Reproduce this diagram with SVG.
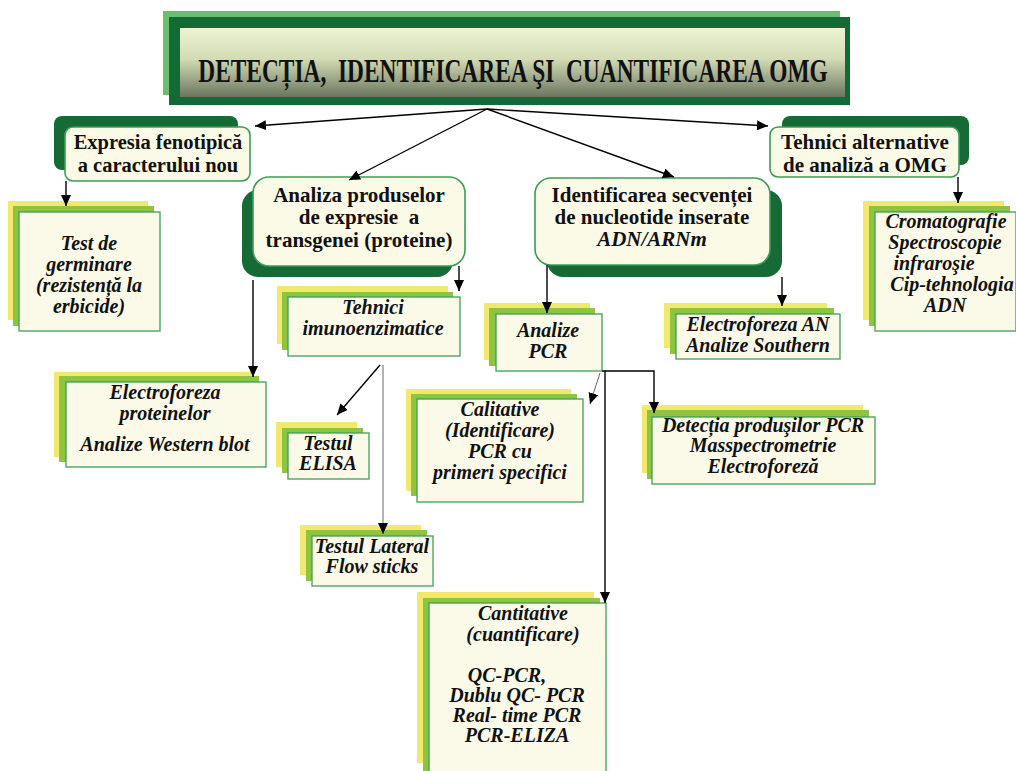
<svg xmlns="http://www.w3.org/2000/svg" width="1016" height="771" viewBox="0 0 1016 771">
<defs>
<linearGradient id="tg" x1="0" y1="0" x2="0" y2="1">
<stop offset="0" stop-color="#eef4d4"/>
<stop offset="0.45" stop-color="#d3dbb4"/>
<stop offset="1" stop-color="#6b7660"/>
</linearGradient>
<marker id="ah" markerUnits="userSpaceOnUse" markerWidth="12" markerHeight="10" refX="11" refY="5" orient="auto">
<path d="M0,0 L11,5 L0,10 z" fill="#000"/>
</marker>
<style>
.sh{fill:#156a35}
.fr{fill:#fbfae6;stroke:#3d9c57;stroke-width:1.6}
.y{fill:#f1e96e}
.g{fill:#8ec43f}
.bx{fill:#fbfae9;stroke:#3f9e5a;stroke-width:1.3}
.b{font-family:"Liberation Serif",serif;font-weight:bold;font-size:21px;fill:#111;text-anchor:middle}
.i{font-family:"Liberation Serif",serif;font-weight:bold;font-style:italic;font-size:20px;fill:#111;text-anchor:middle}
.c{fill:none;stroke:#000;stroke-width:1.4}
.t{fill:none;stroke:#555;stroke-width:0.9}
</style>
</defs>
<rect width="1016" height="771" fill="#fff"/>

<g id="title">
<rect x="163" y="11" width="677" height="84" fill="#6bbf6b"/>
<rect x="169" y="17" width="681" height="88" fill="#146a35"/>
<rect x="180" y="28" width="665" height="69" fill="url(#tg)"/>
<text class="b" transform="translate(513,82) scale(1,1.45)" x="0" y="0" style="font-size:23.4px" xml:space="preserve">DETECȚIA,  IDENTIFICAREA ŞI  CUANTIFICAREA OMG</text>
</g>

<g id="expresia">
<rect class="sh" x="54" y="116" width="184" height="54" rx="8"/>
<rect class="fr" x="65" y="127" width="185" height="54" rx="8"/>
<text class="b" x="158" y="149" style="font-size:20.5px">Expresia fenotipică</text>
<text class="b" x="158" y="172" style="font-size:20.5px">a caracterului nou</text>
</g>

<g id="analiza">
<rect class="sh" x="242" y="190" width="211" height="87" rx="16"/>
<rect class="fr" x="253" y="177" width="212" height="89" rx="16"/>
<text class="b" x="359" y="202">Analiza produselor</text>
<text class="b" x="359" y="224" xml:space="preserve">de expresie  a</text>
<text class="b" x="359" y="247">transgenei (proteine)</text>
</g>

<g id="identificarea">
<rect class="sh" x="547" y="190" width="235" height="87" rx="16"/>
<rect class="fr" x="535" y="178" width="235" height="87" rx="16"/>
<text class="b" x="652" y="202">Identificarea secvenței</text>
<text class="b" x="652" y="224">de nucleotide inserate</text>
<text class="b" x="652" y="246" style="font-style:italic">ADN/ARNm</text>
</g>

<g id="alternative">
<rect class="sh" x="782" y="116" width="187" height="49" rx="8"/>
<rect class="fr" x="770" y="127" width="189" height="50" rx="8"/>
<text class="b" x="865" y="149">Tehnici alternative</text>
<text class="b" x="865" y="172">de analiză a OMG</text>
</g>

<g id="germinare">
<rect class="y" x="8" y="201" width="140" height="119"/>
<rect class="g" x="13" y="206" width="141" height="120"/>
<rect class="bx" x="19" y="212" width="141" height="119"/>
<text class="i" x="89" y="250">Test de</text>
<text class="i" x="89" y="271">germinare</text>
<text class="i" x="89" y="292">(rezistență la</text>
<text class="i" x="89" y="313">erbicide)</text>
</g>

<g id="imuno">
<rect class="y" x="277" y="286" width="171" height="58"/>
<rect class="g" x="282" y="292" width="171" height="58"/>
<rect class="bx" x="288" y="297" width="172" height="59"/>
<text class="i" x="373" y="314">Tehnici</text>
<text class="i" x="373" y="335">imunoenzimatice</text>
</g>

<g id="electroforeza-proteine">
<rect class="y" x="54" y="372" width="199" height="85"/>
<rect class="g" x="59" y="376" width="200" height="86"/>
<rect class="bx" x="66" y="382" width="200" height="85"/>
<text class="i" x="165" y="399">Electroforeza</text>
<text class="i" x="165" y="420">proteinelor</text>
<text class="i" x="165" y="451">Analize Western blot</text>
</g>

<g id="elisa">
<rect class="y" x="276" y="422" width="81" height="45"/>
<rect class="g" x="282" y="428" width="81" height="45"/>
<rect class="bx" x="288" y="433" width="81" height="46"/>
<text class="i" x="328" y="450">Testul</text>
<text class="i" x="328" y="470">ELISA</text>
</g>

<g id="lateral-flow">
<rect class="y" x="300" y="525" width="121" height="50"/>
<rect class="g" x="306" y="530" width="121" height="51"/>
<rect class="bx" x="312" y="536" width="121" height="50"/>
<text class="i" x="372" y="553">Testul Lateral</text>
<text class="i" x="372" y="573">Flow sticks</text>
</g>

<g id="analize-pcr">
<rect class="y" x="484" y="303" width="106" height="57"/>
<rect class="g" x="489" y="308" width="106" height="58"/>
<rect class="bx" x="496" y="314" width="106" height="57"/>
<text class="i" x="548" y="337">Analize</text>
<text class="i" x="548" y="358">PCR</text>
</g>

<g id="southern">
<rect class="y" x="664" y="303" width="163" height="45"/>
<rect class="g" x="670" y="308" width="164" height="46"/>
<rect class="bx" x="676" y="314" width="164" height="45"/>
<text class="i" x="758" y="331">Electroforeza AN</text>
<text class="i" x="758" y="352">Analize Southern</text>
</g>

<g id="cromatografie">
<rect class="y" x="863" y="201" width="141" height="119"/>
<rect class="g" x="869" y="206" width="141" height="120"/>
<rect class="bx" x="875" y="212" width="141" height="119"/>
<text class="i" x="946" y="228">Cromatografie</text>
<text class="i" x="945" y="249">Spectroscopie</text>
<text class="i" x="934" y="270">infraroşie</text>
<text class="i" x="952" y="291">Cip-tehnologia</text>
<text class="i" x="945" y="312">ADN</text>
</g>

<g id="calitative">
<rect class="y" x="406" y="389" width="165" height="102"/>
<rect class="g" x="411" y="394" width="166" height="102"/>
<rect class="bx" x="417" y="399" width="166" height="103"/>
<text class="i" x="500" y="416">Calitative</text>
<text class="i" x="500" y="437">(Identificare)</text>
<text class="i" x="500" y="458">PCR cu</text>
<text class="i" x="500" y="479">primeri specifici</text>
</g>

<g id="detectia">
<rect class="y" x="642" y="405" width="221" height="68"/>
<rect class="g" x="647" y="410" width="222" height="69"/>
<rect class="bx" x="652" y="417" width="223" height="67"/>
<text class="i" x="763" y="432">Detecția produşilor PCR</text>
<text class="i" x="763" y="452">Masspectrometrie</text>
<text class="i" x="763" y="473">Electroforeză</text>
</g>

<g id="cantitative">
<rect class="y" x="417" y="592" width="177" height="171"/>
<rect class="g" x="423" y="598" width="177" height="180"/>
<rect class="bx" x="429" y="603" width="177" height="175"/>
<text class="i" x="523" y="620">Cantitative</text>
<text class="i" x="523" y="641">(cuantificare)</text>
<text class="i" x="507" y="682">QC-PCR,</text>
<text class="i" x="517" y="702">Dublu QC- PCR</text>
<text class="i" x="517" y="722">Real- time PCR</text>
<text class="i" x="517" y="742">PCR-ELIZA</text>
</g>

<g id="connectors">
<line class="c" x1="487" y1="109" x2="255" y2="126" marker-end="url(#ah)"/>
<line class="c" x1="487" y1="109" x2="349" y2="180" marker-end="url(#ah)"/>
<line class="c" x1="487" y1="109" x2="674" y2="177" marker-end="url(#ah)"/>
<line class="c" x1="487" y1="109" x2="768" y2="126" marker-end="url(#ah)"/>
<line class="c" x1="66" y1="181" x2="66" y2="206" marker-end="url(#ah)"/>
<line class="c" x1="253" y1="280" x2="253" y2="377" marker-end="url(#ah)"/>
<line class="c" x1="459" y1="266" x2="459" y2="291" marker-end="url(#ah)"/>
<line class="c" x1="380" y1="365" x2="337" y2="415" marker-end="url(#ah)"/>
<line class="t" x1="383" y1="365" x2="383" y2="534" marker-end="url(#ah)"/>
<line class="c" x1="547" y1="265" x2="547" y2="313" marker-end="url(#ah)"/>
<line class="c" x1="782" y1="277" x2="782" y2="306" marker-end="url(#ah)"/>
<line class="c" x1="958" y1="177" x2="958" y2="203" marker-end="url(#ah)"/>
<line class="t" x1="600" y1="373" x2="590" y2="404" marker-end="url(#ah)"/>
<polyline class="c" points="602,371 654,371 654,413" marker-end="url(#ah)"/>
<line class="c" x1="605" y1="371" x2="605" y2="603" marker-end="url(#ah)"/>
</g>
</svg>
